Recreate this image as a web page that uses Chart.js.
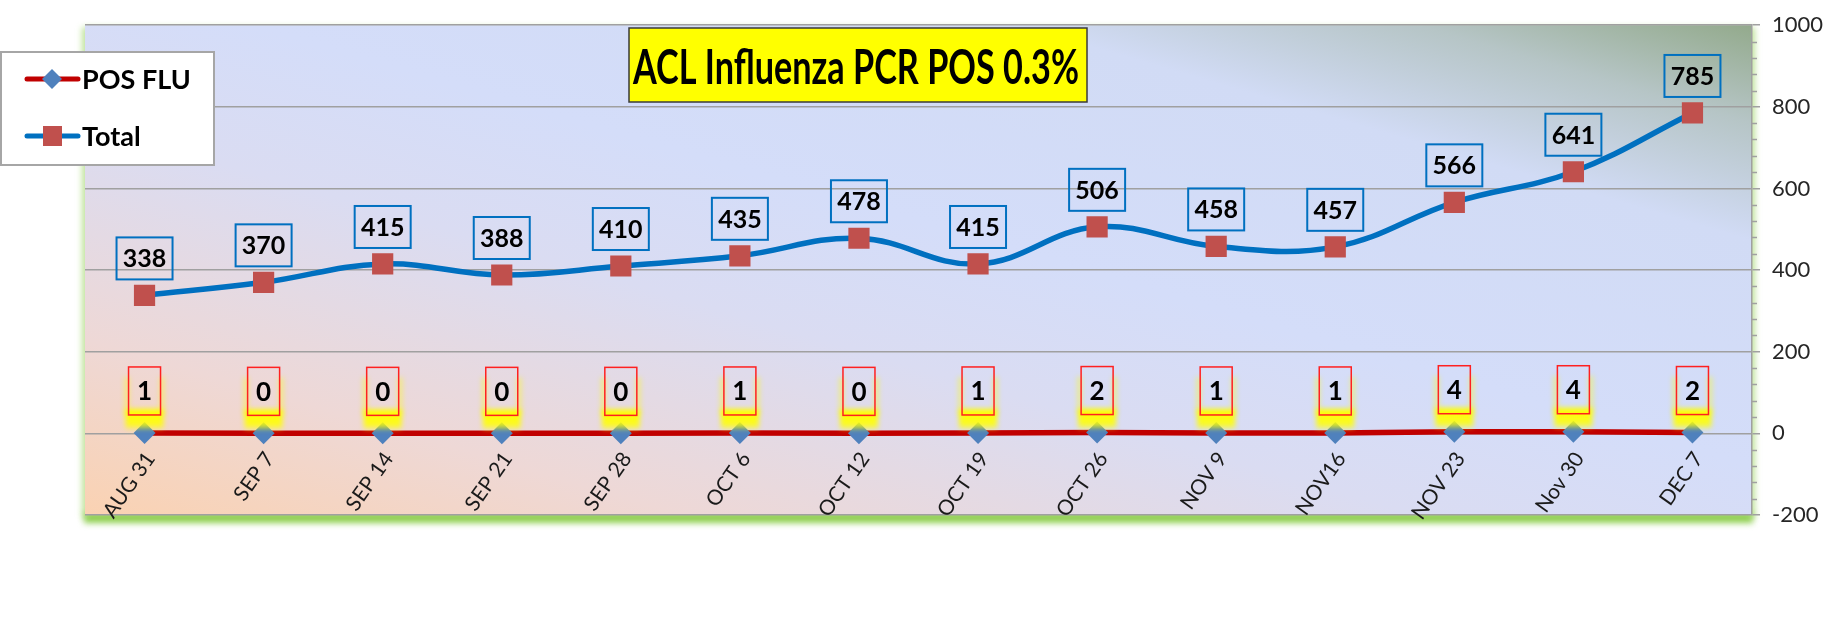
<!DOCTYPE html>
<html>
<head>
<meta charset="utf-8">
<script src="https://cdn.jsdelivr.net/npm/chart.js@4.4.0/dist/chart.umd.min.js"></script>
<style>
  html, body { margin: 0; padding: 0; background: #fff; }
  #wrap { width: 1826px; height: 627px; }
</style>
</head>
<body>
<div id="wrap"><canvas id="chart" width="1826" height="627"></canvas></div>
<script>
// chart data
const weeks = ['AUG 31', 'SEP 7', 'SEP 14', 'SEP 21', 'SEP 28', 'OCT 6', 'OCT 12',
  'OCT 19', 'OCT 26', 'NOV 9', 'NOV16', 'NOV 23', 'Nov 30', 'DEC 7'];
const posFlu = [1, 0, 0, 0, 0, 1, 0, 1, 2, 1, 1, 4, 4, 2];
const totals = [338, 370, 415, 388, 410, 435, 478, 415, 506, 458, 457, 566, 641, 785];
const yMin = -200;
const yMax = 1000;
const yStep = 200;
const yMinorStep = 40;
const chartTitle = 'ACL Influenza PCR POS 0.3%';

Chart.defaults.font.family = 'Lato';

// gradient plot area with green shadow under it
const plotBackground = {
  id: 'plotBackground',
  beforeDraw(chart) {
    const { ctx, chartArea: a } = chart;
    const w = a.right - a.left, h = a.bottom - a.top;
    // green glow, strongest along the bottom edge
    ctx.save();
    ctx.filter = 'blur(3px)';
    ctx.fillStyle = 'rgba(150, 210, 90, 0.6)';
    ctx.fillRect(a.left - 3, a.top + 2, w + 6, h);
    ctx.fillStyle = '#8fcf4f';
    ctx.fillRect(a.left - 1, a.bottom - 2, w + 2, 10);
    ctx.filter = 'none';
    ctx.restore();

    ctx.save();
    ctx.translate(a.left, a.top);
    ctx.scale(w, h);
    const g = ctx.createLinearGradient(0, 1, 1, 0);
    g.addColorStop(0, '#fad2b2');
    g.addColorStop(0.18, '#eed8d6');
    g.addColorStop(0.4, '#dadcf2');
    g.addColorStop(0.55, '#d4ddf9');
    g.addColorStop(0.78, '#d1dbf5');
    g.addColorStop(0.9, '#b6c5c6');
    g.addColorStop(1, '#93aa8c');
    ctx.fillStyle = g;
    ctx.fillRect(0, 0, 1, 1);
    ctx.restore();
  }
};

// small ticks between the major ones on the right axis
const minorTicks = {
  id: 'minorTicks',
  afterDraw(chart) {
    const { ctx } = chart;
    const y = chart.scales.y;
    ctx.save();
    ctx.strokeStyle = '#a0a0a0';
    ctx.lineWidth = 1.5;
    ctx.beginPath();
    for (let v = yMin; v <= yMax; v += yMinorStep) {
      if (v % yStep === 0) continue;
      const py = Math.round(y.getPixelForValue(v)) + 0.5;
      ctx.moveTo(y.left, py);
      ctx.lineTo(y.left + 5, py);
    }
    ctx.stroke();
    ctx.restore();
  }
};

// boxed value labels above the points
const valueBoxes = {
  id: 'valueBoxes',
  afterDatasetsDraw(chart, args, opts) {
    const { ctx } = chart;
    chart.data.datasets.forEach((ds, di) => {
      const st = opts.styles[di];
      const meta = chart.getDatasetMeta(di);
      meta.data.forEach((pt, i) => {
        const txt = String(ds.data[i]);
        const x = pt.x;
        const bottom = pt.y - st.gap;
        const top = bottom - st.h;
        const left = x - st.w / 2;
        ctx.save();
        if (st.glow) {
          ctx.filter = 'blur(2.5px)';
          const g = ctx.createLinearGradient(0, bottom - 4, 0, pt.y);
          g.addColorStop(0, 'rgba(255,255,0,1)');
          g.addColorStop(0.6, 'rgba(255,255,0,0.85)');
          g.addColorStop(1, 'rgba(255,255,0,0)');
          ctx.fillStyle = g;
          ctx.fillRect(left - 3, bottom - 6, st.w + 6, st.gap + 2);
          ctx.fillStyle = 'rgba(255,255,0,0.4)';
          ctx.fillRect(left - 4, top + 10, 5, st.h - 10);
          ctx.fillRect(left + st.w - 1, top + 10, 5, st.h - 10);
          ctx.filter = 'none';
        }
        ctx.strokeStyle = st.border;
        ctx.lineWidth = st.lineWidth;
        ctx.strokeRect(left, top, st.w, st.h);
        ctx.fillStyle = '#000';
        ctx.font = 'bold ' + st.size + 'px Lato';
        ctx.textAlign = 'center';
        ctx.textBaseline = 'middle';
        ctx.fillText(txt, x, top + st.h / 2 + 1);
        ctx.restore();
      });
    });
  }
};

// yellow title box
const titleBox = {
  id: 'titleBox',
  afterDraw(chart, args, opts) {
    const { ctx } = chart;
    ctx.save();
    ctx.fillStyle = '#ffff00';
    ctx.fillRect(629, 28, 458, 74);
    ctx.strokeStyle = '#3a3a3a';
    ctx.lineWidth = 1.5;
    ctx.strokeRect(629, 28, 458, 74);
    ctx.fillStyle = '#000';
    ctx.font = 'bold 47px Lato';
    ctx.textAlign = 'center';
    ctx.textBaseline = 'alphabetic';
    ctx.fillText(opts.text, 856, 84, 446);
    ctx.restore();
  }
};

// legend box at the left, overlapping the plot
const sideLegend = {
  id: 'sideLegend',
  afterDraw(chart) {
    const { ctx } = chart;
    ctx.save();
    ctx.fillStyle = '#fff';
    ctx.fillRect(1, 52, 213, 113);
    ctx.strokeStyle = '#a6a6a6';
    ctx.lineWidth = 2;
    ctx.strokeRect(1, 52, 213, 113);
    chart.data.datasets.forEach((ds, i) => {
      const y = 79 + i * 57;
      ctx.strokeStyle = ds.borderColor;
      ctx.lineWidth = 5;
      ctx.lineCap = 'round';
      ctx.beginPath();
      ctx.moveTo(27, y);
      ctx.lineTo(78, y);
      ctx.stroke();
      ctx.fillStyle = ds.pointBackgroundColor;
      if (ds.pointStyle === 'rectRot') {
        ctx.beginPath();
        ctx.moveTo(52, y - 10);
        ctx.lineTo(62, y);
        ctx.lineTo(52, y + 10);
        ctx.lineTo(42, y);
        ctx.closePath();
        ctx.fill();
      } else {
        ctx.fillRect(43, y - 10, 19, 20);
      }
      ctx.fillStyle = '#000';
      ctx.font = 'bold 27px Lato';
      ctx.textAlign = 'left';
      ctx.textBaseline = 'middle';
      ctx.fillText(ds.label, 82, y + 1);
    });
    ctx.restore();
  }
};

new Chart(document.getElementById('chart'), {
  type: 'line',
  data: {
    labels: weeks,
    datasets: [
      {
        label: 'POS FLU',
        data: posFlu,
        borderColor: '#c00000',
        borderWidth: 5.5,
        tension: 0,
        pointStyle: 'rectRot',
        pointRadius: 11,
        pointBackgroundColor: '#4f81bd',
        pointBorderWidth: 0
      },
      {
        label: 'Total',
        data: totals,
        borderColor: '#0070c0',
        borderWidth: 5.5,
        tension: 0.4,
        pointStyle: 'rect',
        pointRadius: 15,
        pointBackgroundColor: '#c0504d',
        pointBorderWidth: 0
      }
    ]
  },
  options: {
    responsive: false,
    animation: false,
    layout: { padding: { left: 85, top: 21, right: 0, bottom: 112 } },
    scales: {
      x: {
        type: 'category',
        offset: true,
        position: { y: 0 },
        grid: { display: false },
        border: { display: false },
        ticks: {
          autoSkip: false,
          maxRotation: 55,
          minRotation: 55,
          padding: 6,
          labelOffset: 6,
          color: '#1a1a1a',
          font: { size: 21 }
        }
      },
      y: {
        position: 'right',
        min: yMin,
        max: yMax,
        grid: { color: '#a0a0a0', lineWidth: 1.5, tickLength: 8 },
        border: { display: true, color: '#a0a0a0', width: 1.5 },
        ticks: {
          stepSize: yStep,
          padding: 12,
          color: '#262626',
          font: { size: 22 },
          callback: (v) => String(v)
        },
        afterFit(scale) { scale.width = 74; }
      }
    },
    plugins: {
      legend: { display: false },
      tooltip: { enabled: false },
      titleBox: { text: chartTitle },
      valueBoxes: {
        styles: [
          { border: '#ff2020', lineWidth: 1.5, w: 32, h: 48, gap: 18, size: 26, glow: true },
          { border: '#0070c0', lineWidth: 2, w: 56, h: 42, gap: 16, size: 25, glow: false }
        ]
      }
    }
  },
  plugins: [plotBackground, minorTicks, valueBoxes, titleBox, sideLegend]
});
</script>
</body>
</html>
